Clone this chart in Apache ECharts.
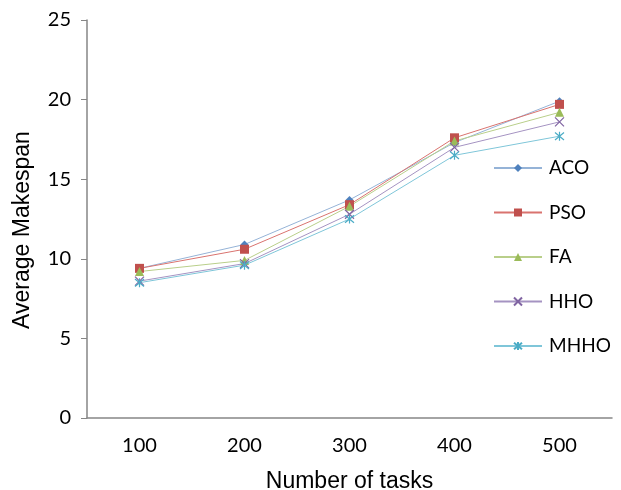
<!DOCTYPE html>
<html><head><meta charset="utf-8">
<script src="https://cdn.jsdelivr.net/npm/echarts@6/dist/echarts.min.js"></script>
<style>html,body{margin:0;padding:0;background:#fff}#c{width:621px;height:490px}</style>
</head><body><div id="c"></div>
<script>
const categories = ['100', '200', '300', '400', '500'];
const seriesNames = ['ACO', 'PSO', 'FA', 'HHO', 'MHHO'];
const ACO  = [9.4, 10.9, 13.7, 17.3, 19.9];
const PSO  = [9.4, 10.6, 13.4, 17.6, 19.7];
const FA   = [9.2, 9.9, 13.3, 17.4, 19.2];
const HHO  = [8.6, 9.7, 12.8, 17.0, 18.6];
const MHHO = [8.5, 9.6, 12.5, 16.5, 17.7];
const yTicks = [0, 5, 10, 15, 20, 25];

const values = [ACO, PSO, FA, HHO, MHHO];
const colors = ['#4F81BD', '#C0504D', '#9BBB59', '#8064A2', '#4BACC6'];
const lineColors = ['#95B3D7', '#D9736F', '#B9CF8A', '#A593C2', '#7FC6D9'];
const xPath = 'path://M0,0 L10,10 M10,0 L0,10';
const starPath = 'path://M0,0 L10,10 M10,0 L0,10 M5,-1 L5,11';
const symbols = ['diamond', 'rect', 'triangle', xPath, starPath];
const sizes = [8, 9, 9, 9, 9];

const chart = echarts.init(document.getElementById('c'), null, {renderer: 'canvas'});
chart.setOption({
  animation: false,
  grid: {left: 87, right: 9, top: 20, bottom: 72, containLabel: false, outerBoundsMode: 'none'},
  legend: {
    orient: 'vertical', left: 493, top: 158, padding: 0,
    itemWidth: 48, itemHeight: 10, itemGap: 24.5,
    textStyle: {fontFamily: 'Lato, "Open Sans", sans-serif', fontSize: 19, color: '#000', lineHeight: 20, padding: [0,0,0,2]},
    data: seriesNames
  },
  xAxis: {
    type: 'category', data: categories, boundaryGap: true,
    name: 'Number of tasks', nameLocation: 'middle', nameGap: 52,
    nameTextStyle: {fontFamily: 'Liberation Sans, Arial, sans-serif', fontSize: 23, color: '#000'},
    axisLine: {lineStyle: {color: '#868686', width: 1.5}},
    axisTick: {show: false},
    axisLabel: {fontFamily: 'Lato, "Open Sans", sans-serif', fontSize: 20, color: '#000', margin: 18}
  },
  yAxis: {
    type: 'value', min: 0, max: 25, interval: 5,
    name: 'Average Makespan', nameLocation: 'middle', nameGap: 53,
    nameTextStyle: {fontFamily: 'Liberation Sans, Arial, sans-serif', fontSize: 23, color: '#000', padding: [0, 22, 0, 0]},
    axisLine: {show: true, lineStyle: {color: '#868686', width: 1.5}},
    axisTick: {show: true, length: 6, lineStyle: {color: '#868686'}},
    splitLine: {show: false},
    axisLabel: {fontFamily: 'Lato, "Open Sans", sans-serif', fontSize: 20, color: '#000', margin: 16,
      formatter: v => yTicks.includes(v) ? String(v) : ''}
  },
  series: seriesNames.map((n, i) => {
    const stroke = i >= 3;
    return {
      name: n, type: 'line', data: values[i],
      symbol: symbols[i], symbolSize: sizes[i], showAllSymbol: true,
      lineStyle: {color: lineColors[i], width: 1},
      itemStyle: stroke ? {color: 'rgba(0,0,0,0)', borderColor: colors[i], borderWidth: 1.2}
                        : {color: colors[i], borderColor: colors[i], borderWidth: 0}
    };
  })
});
</script></body></html>
